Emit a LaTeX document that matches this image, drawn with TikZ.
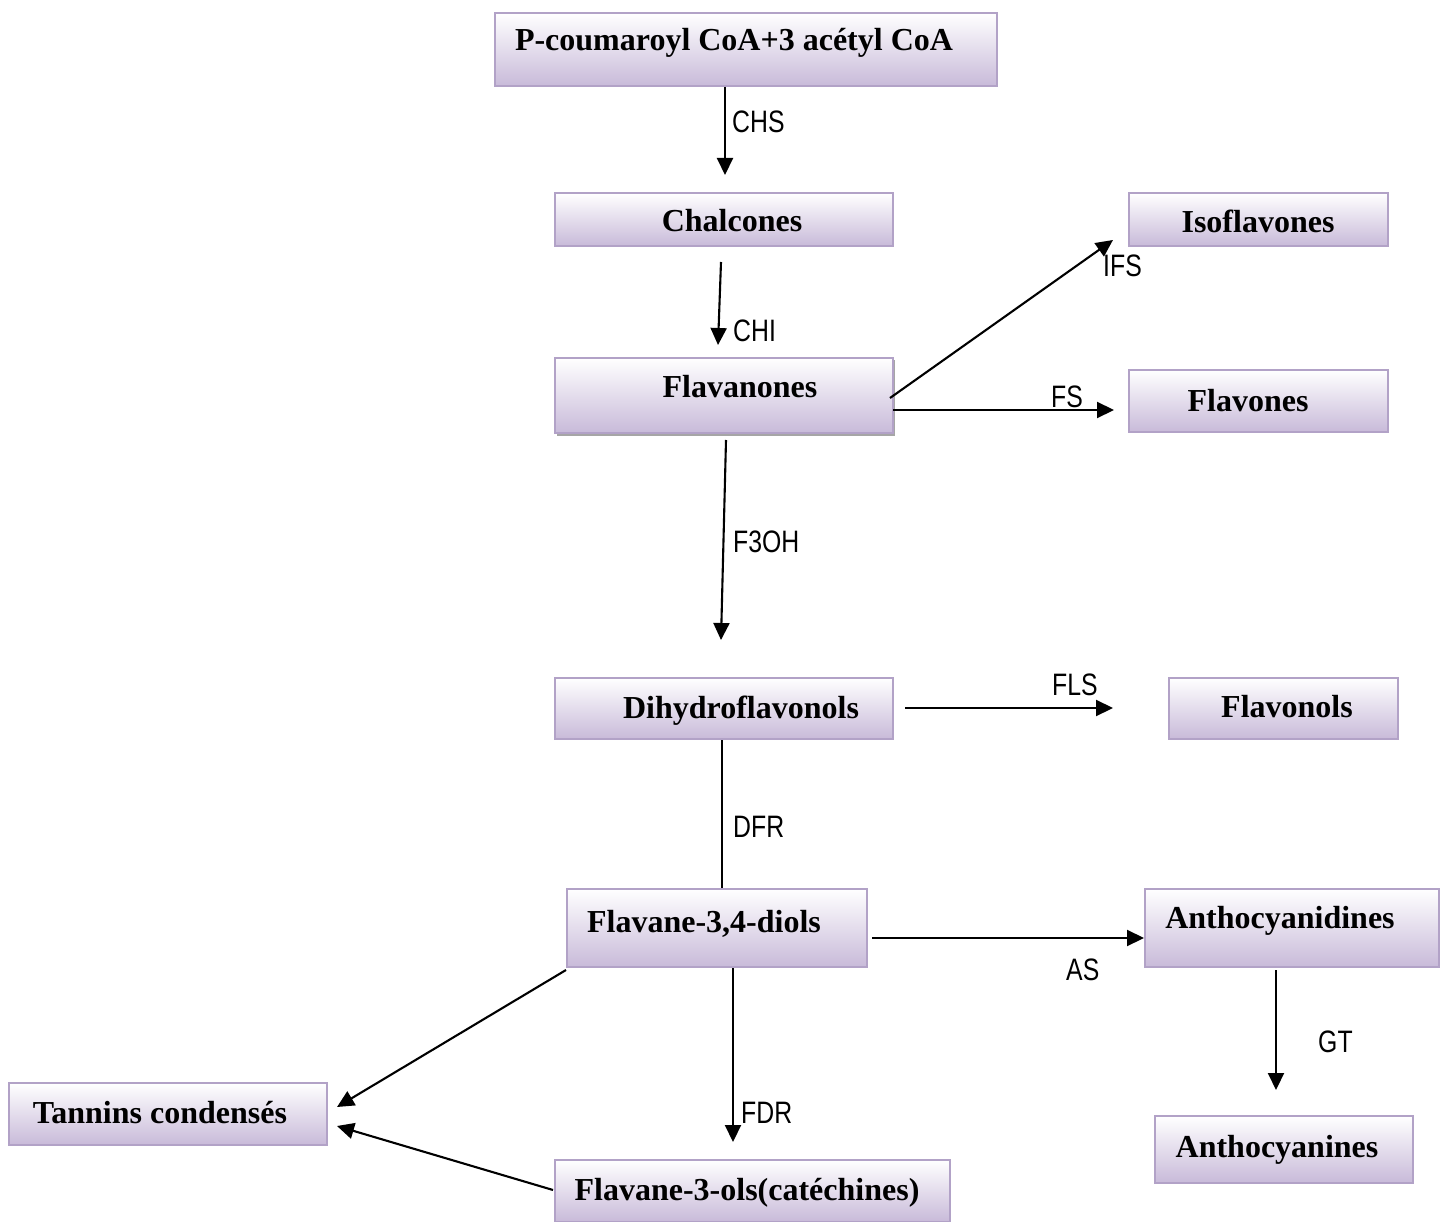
\documentclass[tikz,border=0pt]{standalone}
\usepackage{fontspec}
\setmainfont{Liberation Serif}
\newfontfamily\labfont[FakeStretch=0.8]{Liberation Sans}
\usetikzlibrary{arrows.meta}
\definecolor{boxedge}{RGB}{178,162,199}
\definecolor{boxlow}{RGB}{200,186,217}
\tikzset{
  box/.style={draw=boxedge, line width=2pt, top color=white, bottom color=boxlow,
    inner sep=0pt, anchor=north west},
  boxtext/.style={font=\fontsize{32}{38}\selectfont\bfseries, inner sep=0pt, anchor=base},
  enz/.style={font=\labfont\fontsize{31}{36}\selectfont, inner sep=0pt, anchor=base west},
  conn/.style={line width=2.1pt, -{Triangle[length=17pt,width=16pt]}},
  plainline/.style={line width=2.1pt}
}
\newcommand{\bx}[5]{% name, x0, y0, x1, y1
  \node[box, minimum width=#4-#2, minimum height=#5-#3] (#1) at (#2,#3) {};}
\begin{document}
\begin{tikzpicture}[x=1pt,y=-1pt]
\useasboundingbox (0,0) rectangle (1446,1222);
\fill[white] (0,0) rectangle (1446,1222);

% shadow under the flavanone box
\fill[gray!70] (557,360) rectangle (895,436);

% boxes
\bx{pc}{494}{12}{996}{85}
\bx{chal}{554}{192}{892}{245}
\bx{flan}{554}{357}{892}{432}
\bx{iso}{1128}{192}{1387}{245}
\bx{flav}{1128}{369}{1387}{431}
\bx{dhf}{554}{677}{892}{738}
\bx{flol}{1168}{677}{1397}{738}
\bx{fdiol}{566}{888}{866}{966}
\bx{acy}{1144}{888}{1438}{966}
\bx{tan}{8}{1082}{326}{1144}
\bx{cat}{554}{1159}{949}{1221}
\bx{acn}{1154}{1115}{1412}{1182}

% box texts (placed on their baselines)
\node[boxtext] (tpc) at (734,51) {P-coumaroyl CoA+3 acétyl CoA};
\node[boxtext] (tchal) at (732,232) {Chalcones};
\node[boxtext] (tflan) at (740,398) {Flavanones};
\node[boxtext] (tiso) at (1258,233) {Isoflavones};
\node[boxtext] (tflav) at (1248,412) {Flavones};
\node[boxtext] (tdhf) at (741,718) {Dihydroflavonols};
\node[boxtext] (tflol) at (1287,717) {Flavonols};
\node[boxtext] (tfdiol) at (704,932) {Flavane-3,4-diols};
\node[boxtext] (tacy) at (1280,928) {Anthocyanidines};
\node[boxtext] (ttan) at (160,1123) {Tannins condensés};
\node[boxtext] (tcat) at (747,1200) {Flavane-3-ols(catéchines)};
\node[boxtext] (tacn) at (1277,1157) {Anthocyanines};

% free ends of the connectors
\coordinate (c1) at (725,175);
\coordinate (c2s) at (721,262);
\coordinate (c2e) at (718,345);
\coordinate (c3s) at (726,440);
\coordinate (c3e) at (721,640);
\coordinate (c4s) at (890,398);
\coordinate (c4e) at (1113,240);
\coordinate (c5s) at (893,410);
\coordinate (c5e) at (1114,410);
\coordinate (c6s) at (905,708);
\coordinate (c6e) at (1113,708);
\coordinate (c7s) at (722,740);
\coordinate (c7e) at (722,888);
\coordinate (c8s) at (872,938);
\coordinate (c9s) at (1276,970);
\coordinate (c9e) at (1276,1090);
\coordinate (c10s) at (733,968);
\coordinate (c10e) at (733,1142);
\coordinate (c11s) at (566,970);
\coordinate (c11e) at (337,1107);
\coordinate (c12s) at (553,1190);
\coordinate (c12e) at (337,1126);

% connectors
\draw[conn] (pc.south -| c1) -- (c1);
\draw[conn] (c2s) -- (c2e);
\draw[conn] (c3s) -- (c3e);
\draw[conn] (c4s) -- (c4e);
\draw[conn] (c5s) -- (c5e);
\draw[conn] (c6s) -- (c6e);
\draw[plainline] (c7s) -- (c7e);
\draw[conn] (c8s) -- (c8s -| acy.west);
\draw[conn] (c9s) -- (c9e);
\draw[conn] (c10s) -- (c10e);
\draw[conn] (c11s) -- (c11e);
\draw[conn] (c12s) -- (c12e);

% enzyme labels
\node[enz] (lchs) at (732,133) {CHS};
\node[enz] (lchi) at (733,342) {CHI};
\node[enz] (lf3oh) at (733,552) {F3OH};
\node[enz] (lifs) at (1103,277) {IFS};
\node[enz] (lfs) at (1051,408) {FS};
\node[enz] (lfls) at (1052,695) {FLS};
\node[enz] (ldfr) at (733,837) {DFR};
\node[enz] (las) at (1066,980) {AS};
\node[enz] (lgt) at (1318,1052) {GT};
\node[enz] (lfdr) at (741,1123) {FDR};
\end{tikzpicture}
\end{document}
